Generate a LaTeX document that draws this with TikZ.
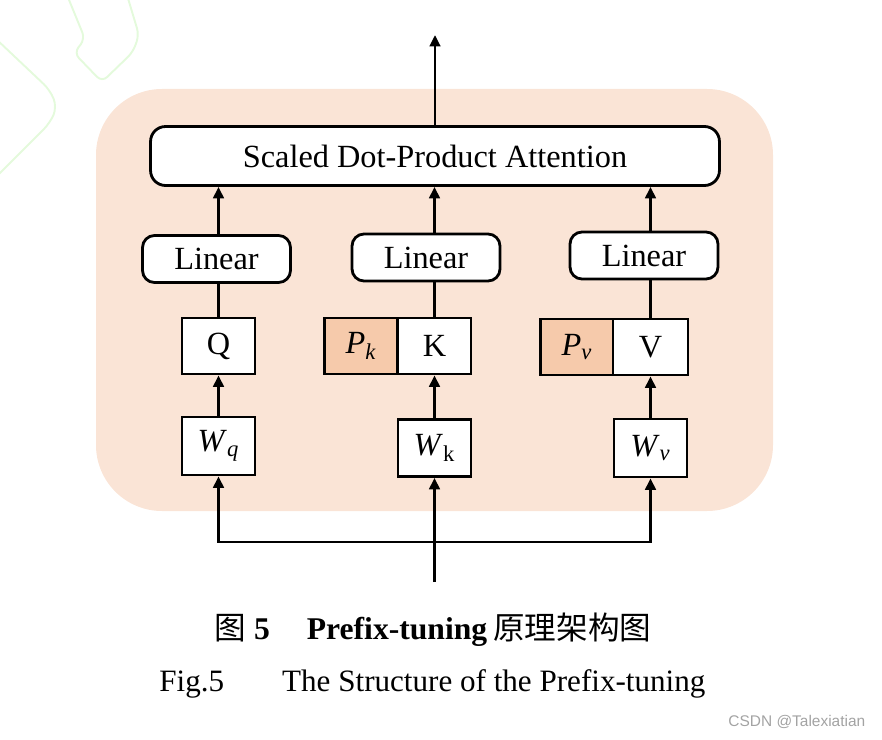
\documentclass[tikz,border=0pt]{standalone}
\usepackage{fontspec}
\setmainfont{Liberation Serif}
\newfontfamily\cjk{Noto Sans CJK SC}
\newfontfamily\wmark{Liberation Sans}
\usetikzlibrary{arrows.meta}
\definecolor{pfxpeach}{HTML}{FAE4D6}
\definecolor{pfxprefix}{HTML}{F6CAAB}
\definecolor{pfxgreen}{HTML}{E4FADC}
\definecolor{pfxgray}{HTML}{A3A3A3}

\begin{document}
\begin{tikzpicture}[x=0.02cm, y=-0.02cm, >={Triangle[width=6pt,length=6.5pt]},
  font=\fontsize{18.4}{22}\selectfont, line width=1.6pt,
  cell/.style={draw, fill=white, inner sep=0pt, minimum width=1.46cm, minimum height=1.12cm},
  prefixcell/.style={cell, fill=pfxprefix},
  linear/.style={draw, fill=white, rounded corners=0.24cm, inner sep=0pt, minimum width=2.96cm, minimum height=0.94cm}]
  \useasboundingbox (0,0) rectangle (882,740);
  % faint marks in the corner
  \draw[pfxgreen, line width=1.1pt, rounded corners=4pt] (67,-5) -- (85,39) -- (74,53) -- (102,82) -- (133,52) -- (139,35) -- (127,-5);
  \draw[pfxgreen, line width=1.1pt, rounded corners=5pt] (-5,38) -- (50,90) -- (57,107) -- (50,123) -- (-5,178);
  \fill[pfxpeach, rounded corners=1.32cm] (96,89) rectangle (773,511);
  % blocks
  \node[draw, fill=white, rounded corners=0.3cm, inner sep=0pt, minimum width=11.38cm, minimum height=1.18cm] (attn) at (435,156) {Scaled Dot-Product Attention};
  \node[linear] (linq) at (216.5,259) {Linear};
  \node[linear] (link) at (426,257.5) {Linear};
  \node[linear] (linv) at (644,255.5) {Linear};
  \node[cell] (q) at (218.5,346) {Q};
  \node[prefixcell] (pk) at (361,346) {\textit{P}\textsubscript{\textit{k}}};
  \node[cell] (k) at (434.5,346) {K};
  \node[prefixcell] (pv) at (577,347) {\textit{P}\textsubscript{\textit{v}}};
  \node[cell, minimum width=1.5cm] (v) at (650.5,347) {V};
  \node[cell, minimum height=1.16cm] (wq) at (218.5,446) {\textit{W}\textsubscript{\textit{q}}};
  \node[cell, minimum height=1.14cm] (wk) at (434.5,448) {\textit{W}\textsubscript{k}};
  \node[cell, minimum height=1.16cm] (wv) at (650.5,448) {\textit{W}\textsubscript{\textit{v}}};
  \coordinate (out) at (435,35);
  \coordinate (in) at (434.5,582);
  \coordinate (split) at (434.5,542);
  % connectors
  \draw[->] (attn) -- (out);
  \draw[->] (q |- linq.north) -- (q |- attn.south);
  \draw (q) -- (q |- linq.south);
  \draw[->] (wq) -- (q);
  \draw[->] (k |- link.north) -- (k |- attn.south);
  \draw (k) -- (k |- link.south);
  \draw[->] (wk) -- (k);
  \draw[->] (v |- linv.north) -- (v |- attn.south);
  \draw (v) -- (v |- linv.south);
  \draw[->] (wv) -- (v);
  \draw[->] (in) -- (wk);
  \draw[->] (split) -| (wq);
  \draw[->] (split) -| (wv);
  % captions
  \node[anchor=base west, inner sep=0pt, font=\fontsize{18}{22}\selectfont] (capzh) at (213,639) {\cjk 图\hspace{0.16cm}\textbf{\rmfamily 5}\hspace{0.74cm}\textbf{\rmfamily Prefix-tuning}\hspace{0.12cm}\cjk 原理架构图};
  \node[anchor=base west, inner sep=0pt, font=\fontsize{17.7}{22}\selectfont] (capen) at (158,691) {Fig.5\hspace{1.16cm}The Structure of the Prefix-tuning};
  \node[anchor=west, inner sep=0pt, font=\wmark\fontsize{8.8}{10}\selectfont, text=pfxgray] (mark) at (727,722) {CSDN @Talexiatian};
\end{tikzpicture}
\end{document}
